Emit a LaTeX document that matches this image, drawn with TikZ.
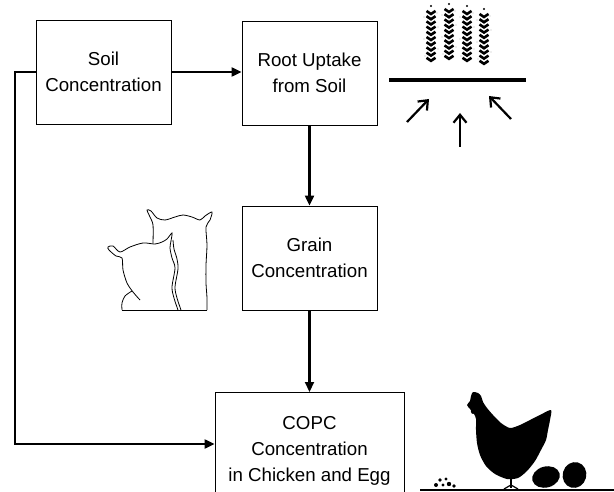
\documentclass[tikz,border=0pt]{standalone}
\usepackage{fontspec}
\setmainfont{Liberation Sans}
\usetikzlibrary{arrows.meta}
\tikzset{
  boxnode/.style={draw=black, line width=0.9pt, minimum width=135pt, minimum height=104pt,
    align=center, inner sep=0pt, font=\fontsize{18.7}{26}\selectfont},
  conn/.style={line width=2.2pt, -{Triangle[length=10pt,width=9pt]}},
  uparrow/.style={line width=2.2pt, -{Straight Barb[length=8pt,width=13pt]}},
  outline/.style={line width=0.8pt, black},
  grainv/.style={line width=2.6pt, black},
}
\begin{document}
\begin{tikzpicture}[x=1pt,y=-1pt]
\useasboundingbox (0,0) rectangle (614,492);
\begin{scope}
\clip (0,0) rectangle (614,492);
% boxes
\node[boxnode] (soil) at (103.5,72) {Soil\\Concentration};
\node[boxnode] (root) at (309.5,73) {Root Uptake\\from Soil};
\node[boxnode] (grain) at (309.5,258) {Grain\\Concentration};
\node[boxnode, minimum width=189pt, minimum height=116pt, anchor=north] (copc) at (309.5,392) {COPC\\Concentration\\in Chicken and Egg};
% connectors
\coordinate (lf) at (15,444);
\draw[conn] (soil.east) -- (soil.east -| root.west);
\draw[conn] (root.south) -- (grain.north);
\draw[conn] (grain.south) -- (copc.north);
\draw[conn] (soil.west) -| (lf) -- (lf -| copc.west);

% plant: soil line and arrows
\coordinate (barL) at (389,80);
\coordinate (barR) at (526,80);
\draw[line width=4.5pt] (barL) -- (barR);
\coordinate (a1s) at (407,122); \coordinate (a1e) at (429,99);
\coordinate (a2s) at (460,147); \coordinate (a2e) at (460,113);
\coordinate (a3s) at (511,119); \coordinate (a3e) at (489,96);
\draw[uparrow] (a1s) -- (a1e);
\draw[uparrow] (a2s) -- (a2e);
\draw[uparrow] (a3s) -- (a3e);
% wheat ears
\foreach \cx/\top in {431/11, 449/9, 467/11, 484/14}{
  \foreach \i in {0,...,9}{
    \pgfmathsetmacro{\yy}{\top+\i*5.2}
    \draw[grainv] (\cx-4.5,\yy) -- (\cx,\yy+3) -- (\cx+4.5,\yy);
  }
  \fill (\cx,\top-5) circle (1.1pt);
  \fill[gray!55] (\cx-7,\top+6) circle (0.7pt) (\cx+7,\top+16) circle (0.7pt)
                 (\cx-7,\top+28) circle (0.7pt) (\cx+7,\top+38) circle (0.7pt)
                 (\cx+6,\top+2) circle (0.6pt) (\cx-6,\top+45) circle (0.6pt);
}

% sheep outlines
\draw[outline] plot[smooth, tension=0.5] coordinates {(140,300) (133,292) (127,283) (123,270) (122,258) (116,256) (109,250) (108,247) (113,246) (120,252) (130,247) (143,243) (155,244) (162,242) (167,239) (172,233) (171,241) (170,248) (172,258) (175,268) (172,287) (174,298) (178,310)};
\draw[outline] plot[smooth, tension=0.5] coordinates {(173,240) (174,249) (177,259) (178,269) (175,287) (177,298) (181,310)};
\draw[outline] plot[smooth, tension=0.5] coordinates {(132,291) (125,296) (122,303) (122,310)};
\draw[outline] plot[smooth, tension=0.5] coordinates {(153,243) (153,225) (150,217) (147,210) (151,211) (157,218) (165,220) (175,217) (183,215) (192,217) (200,220) (205,216) (212,212) (210,220) (206,227) (207,245) (206,265) (206,283) (207,298) (207,310)};
\draw[outline] (122,310) -- (207,310);

% chicken
\fill plot[smooth cycle, tension=0.45] coordinates {(473,392) (478,393) (481,396) (483,402) (487,408) (493,415) (501,423) (510,428) (520,425) (530,420) (540,415) (551,410) (550,420) (548,430) (546,440) (541,450) (535,461) (527,471) (518,478) (507,479) (495,474) (486,466) (480,455) (477,443) (476,430) (476,419) (474,414) (470,409) (467,405) (470,401) (471,396)};
\fill (473,411) ellipse (2.2pt and 3pt);
\draw[line width=1.4pt] (511,477) -- (511,488);
\draw[line width=1.2pt] (504,489) -- (511,485) -- (518,489);
% eggs
\fill[rotate around={15:(546,477)}] (546,477) ellipse (14pt and 10.5pt);
\fill[rotate around={-15:(574.5,475)}] (574.5,475) ellipse (11.8pt and 13pt);
% feed dots
\fill (436,485) circle (2pt) (440,480) circle (1.8pt) (446,479) circle (1.7pt)
      (443,485) circle (1.6pt) (449,484) circle (2.2pt) (454,486) circle (1.8pt);
% ground
\coordinate (gL) at (420,490);
\coordinate (gR) at (614,490);
\draw[line width=2.5pt] (gL) -- (gR);
\end{scope}
\end{tikzpicture}
\end{document}
